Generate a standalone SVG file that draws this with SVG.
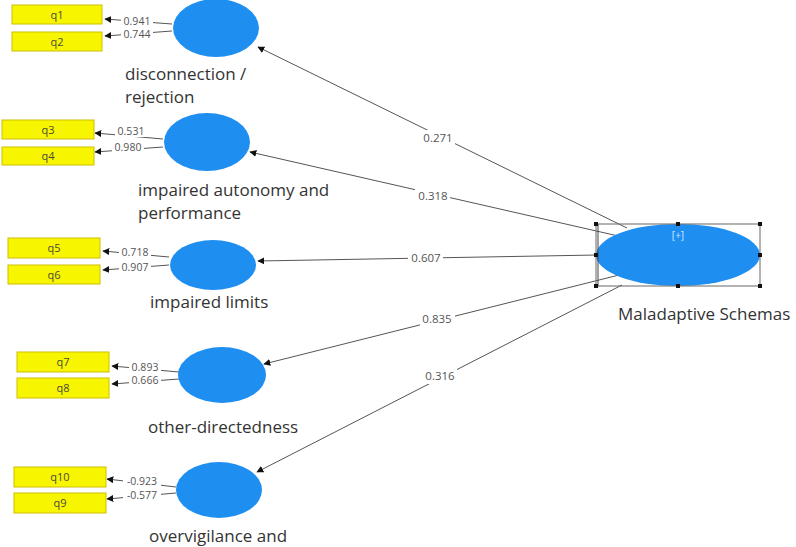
<svg xmlns="http://www.w3.org/2000/svg" width="796" height="547" viewBox="0 0 796 547">
<style>
.ind{fill:#f8f500;stroke:#cdbf00;stroke-width:1}
.indt{font-family:"Open Sans","DejaVu Sans",sans-serif;font-size:11px;fill:#4a4a3a;text-anchor:middle}
.lv{fill:#1e8ff0}
.lab{font-family:"Open Sans","DejaVu Sans",sans-serif;font-size:17px;fill:#333}
.ld{stroke:#555;stroke-width:1;fill:none}
.pt{font-family:"Open Sans","DejaVu Sans",sans-serif;font-size:11.5px;fill:#555;text-anchor:middle}
.lt{font-family:"Open Sans","DejaVu Sans",sans-serif;font-size:10.5px;fill:#555;text-anchor:middle}
.bg{fill:#fff}
.h{fill:#111}
</style>
<defs>
<marker id="ah" viewBox="0 0 10 10" refX="9" refY="5" markerWidth="7" markerHeight="7" orient="auto" markerUnits="userSpaceOnUse">
<path d="M0,0 L10,5 L0,10 z" fill="#111"/>
</marker>
</defs>
<rect width="796" height="547" fill="#fff"/>

<g id="connectors">
<line class="ld" x1="627" y1="228" x2="258" y2="47" marker-end="url(#ah)"/>
<line class="ld" x1="627" y1="238" x2="250" y2="152" marker-end="url(#ah)"/>
<line class="ld" x1="597" y1="255" x2="258" y2="261" marker-end="url(#ah)"/>
<line class="ld" x1="627" y1="273" x2="264" y2="364" marker-end="url(#ah)"/>
<line class="ld" x1="622" y1="285" x2="257" y2="472" marker-end="url(#ah)"/>
<rect class="bg" x="420" y="130" width="35" height="15"/><text class="pt" x="438" y="142">0.271</text>
<rect class="bg" x="415" y="189" width="35" height="15"/><text class="pt" x="433" y="200">0.318</text>
<rect class="bg" x="408" y="251" width="35" height="15"/><text class="pt" x="426" y="262">0.607</text>
<rect class="bg" x="420" y="312" width="35" height="15"/><text class="pt" x="437" y="323">0.835</text>
<rect class="bg" x="422" y="369" width="35" height="15"/><text class="pt" x="440" y="380">0.316</text>

<line class="ld" x1="172" y1="24" x2="105" y2="19" marker-end="url(#ah)"/>
<line class="ld" x1="172" y1="31" x2="105" y2="36" marker-end="url(#ah)"/>
<line class="ld" x1="163" y1="139" x2="95" y2="133" marker-end="url(#ah)"/>
<line class="ld" x1="163" y1="147" x2="95" y2="152" marker-end="url(#ah)"/>
<line class="ld" x1="169" y1="257" x2="103" y2="251" marker-end="url(#ah)"/>
<line class="ld" x1="169" y1="265" x2="103" y2="270" marker-end="url(#ah)"/>
<line class="ld" x1="179" y1="372" x2="112" y2="366" marker-end="url(#ah)"/>
<line class="ld" x1="179" y1="379" x2="112" y2="384" marker-end="url(#ah)"/>
<line class="ld" x1="176" y1="487" x2="107" y2="479" marker-end="url(#ah)"/>
<line class="ld" x1="176" y1="493" x2="107" y2="499" marker-end="url(#ah)"/>
<rect class="bg" x="121" y="16" width="32" height="11"/><text class="lt" x="137" y="25">0.941</text>
<rect class="bg" x="121" y="29" width="32" height="11"/><text class="lt" x="137" y="38">0.744</text>
<rect class="bg" x="115" y="126" width="32" height="11"/><text class="lt" x="131" y="135">0.531</text>
<rect class="bg" x="112" y="142" width="32" height="11"/><text class="lt" x="128" y="151">0.980</text>
<rect class="bg" x="119" y="247" width="32" height="11"/><text class="lt" x="135" y="256">0.718</text>
<rect class="bg" x="119" y="262" width="32" height="11"/><text class="lt" x="135" y="271">0.907</text>
<rect class="bg" x="129" y="362" width="32" height="11"/><text class="lt" x="145" y="371">0.893</text>
<rect class="bg" x="129" y="375" width="32" height="11"/><text class="lt" x="145" y="384">0.666</text>
<rect class="bg" x="123" y="476" width="38" height="11"/><text class="lt" x="142" y="485">-0.923</text>
<rect class="bg" x="123" y="490" width="38" height="11"/><text class="lt" x="142" y="499">-0.577</text>
</g>

<g id="q1"><rect class="ind" x="12" y="5" width="90" height="19"/><text class="indt" x="57" y="18.5">q1</text></g>
<g id="q2"><rect class="ind" x="12" y="32" width="90" height="19"/><text class="indt" x="57" y="45.5">q2</text></g>
<g id="q3"><rect class="ind" x="2" y="120" width="92" height="19"/><text class="indt" x="48" y="133.5">q3</text></g>
<g id="q4"><rect class="ind" x="2" y="147" width="92" height="18"/><text class="indt" x="48" y="160">q4</text></g>
<g id="q5"><rect class="ind" x="8" y="238" width="92" height="20"/><text class="indt" x="54" y="252">q5</text></g>
<g id="q6"><rect class="ind" x="8" y="265" width="92" height="19"/><text class="indt" x="54" y="278.5">q6</text></g>
<g id="q7"><rect class="ind" x="17" y="352" width="92" height="20"/><text class="indt" x="63" y="366">q7</text></g>
<g id="q8"><rect class="ind" x="17" y="378" width="92" height="20"/><text class="indt" x="63" y="392">q8</text></g>
<g id="q10"><rect class="ind" x="14" y="467" width="92" height="20"/><text class="indt" x="60" y="481">q10</text></g>
<g id="q9"><rect class="ind" x="14" y="493" width="92" height="20"/><text class="indt" x="60" y="507">q9</text></g>

<g id="disconnection"><ellipse class="lv" cx="216" cy="28" rx="43" ry="29"/>
<text class="lab" x="125" y="80">disconnection /</text><text class="lab" x="125" y="103">rejection</text></g>
<g id="autonomy"><ellipse class="lv" cx="207" cy="142" rx="43" ry="29"/>
<text class="lab" x="138" y="196">impaired autonomy and</text><text class="lab" x="138" y="219">performance</text></g>
<g id="limits"><ellipse class="lv" cx="213" cy="265" rx="43" ry="25"/>
<text class="lab" x="150" y="308">impaired limits</text></g>
<g id="other"><ellipse class="lv" cx="222" cy="375" rx="44" ry="28"/>
<text class="lab" x="148" y="433">other-directedness</text></g>
<g id="overvigilance"><ellipse class="lv" cx="219" cy="490" rx="43" ry="28"/>
<text class="lab" x="149" y="542">overvigilance and</text></g>

<g id="maladaptive">
<ellipse class="lv" cx="678" cy="255" rx="82" ry="31"/>
<rect x="596" y="224" width="164" height="62" fill="none" stroke="#666" stroke-width="1"/>
<line x1="598" y1="224" x2="598" y2="286" stroke="#444" stroke-width="1"/>
<rect class="h" x="594" y="222" width="4" height="4"/><rect class="h" x="676" y="222" width="4" height="4"/><rect class="h" x="758" y="222" width="4" height="4"/>
<rect class="h" x="594" y="253" width="4" height="4"/><rect class="h" x="758" y="253" width="4" height="4"/>
<rect class="h" x="594" y="284" width="4" height="4"/><rect class="h" x="676" y="284" width="4" height="4"/><rect class="h" x="758" y="284" width="4" height="4"/>
<text x="678" y="239" font-family="Open Sans, DejaVu Sans, sans-serif" font-size="10px" fill="#cfe6ff" text-anchor="middle">[+]</text>
<text class="lab" x="618" y="320" font-size="18px">Maladaptive Schemas</text>
</g>
</svg>
